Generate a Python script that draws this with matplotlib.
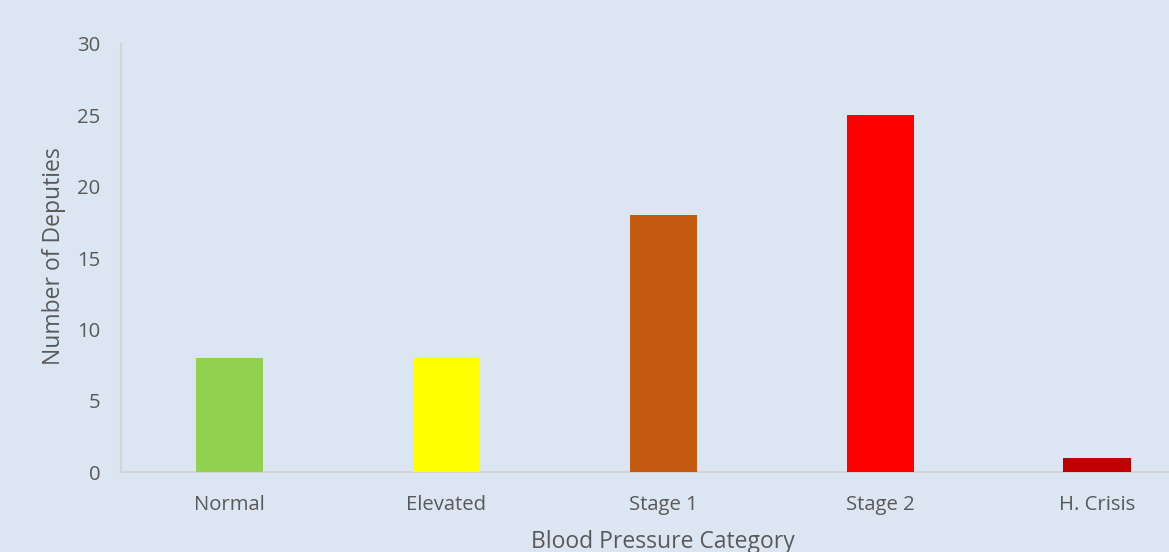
import matplotlib.pyplot as plt

# blood pressure categories and deputy counts
categories = ["Normal", "Elevated", "Stage 1", "Stage 2", "H. Crisis"]
counts = [8, 8, 18, 25, 1]
bar_colors = ["#92d050", "#ffff00", "#c55a11", "#ff0000", "#c00000"]
y_ticks = [0, 5, 10, 15, 20, 25, 30]

plt.rcParams['font.family'] = ['Open Sans', 'DejaVu Sans']
bg = "#dce6f2"
txt = "#595959"

fig = plt.figure(figsize=(11.69, 5.52), dpi=100, facecolor=bg)
# axes run past the right edge on purpose (chart is cut off there)
ax = fig.add_axes([0.1035, 0.1449, 0.9277, 0.7754], facecolor=bg)

x = range(len(categories))
ax.bar(x, counts, width=0.31, color=bar_colors, zorder=3)

ax.set_xlim(-0.5, len(categories) - 0.5)
ax.set_ylim(0, 30)
ax.set_yticks(y_ticks)
ax.set_xticks(list(x))
ax.set_xticklabels(categories)

for s in ["top", "right"]:
    ax.spines[s].set_visible(False)
for s in ["left", "bottom"]:
    ax.spines[s].set_color("#d4d4d4")
    ax.spines[s].set_linewidth(1.5)

ax.tick_params(axis="both", length=0, labelsize=14.6, labelcolor=txt)
ax.tick_params(axis="y", pad=15)
ax.tick_params(axis="x", pad=16.5)

ax.set_ylabel("Number of Deputies", fontsize=16.5, color=txt)
ax.yaxis.label.set_va("center")
ax.yaxis.set_label_coords(-0.062, 0.505)
ax.set_xlabel("Blood Pressure Category", fontsize=16.5, color=txt)
ax.xaxis.label.set_va("center")
ax.xaxis.set_label_coords(0.5, -0.1636)

fig.savefig("out.png", dpi=100, facecolor=bg)
